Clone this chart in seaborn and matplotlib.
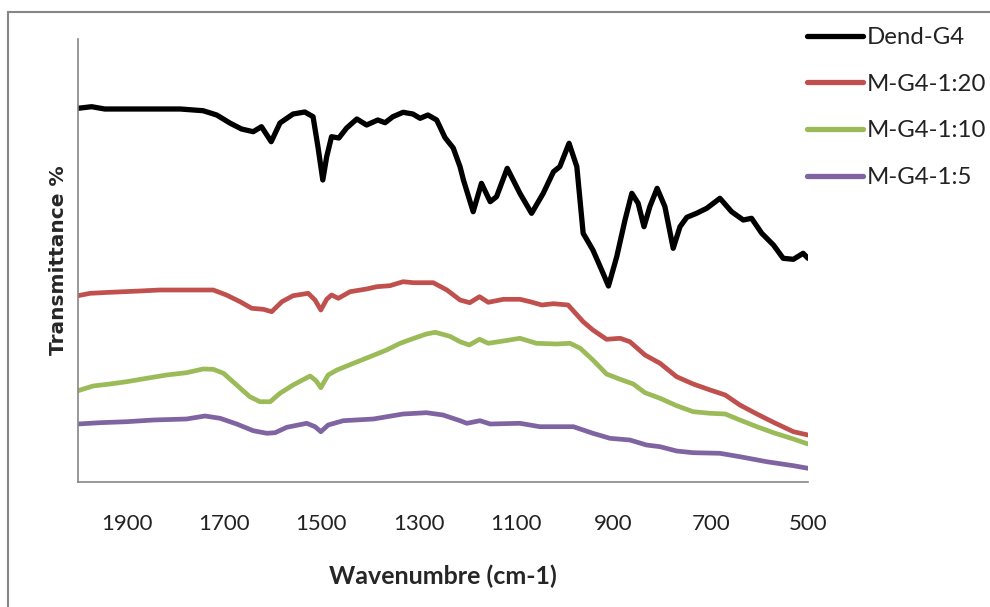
import numpy as np
import pandas as pd
import matplotlib
matplotlib.use("Agg")
import matplotlib.pyplot as plt
import seaborn as sns
from matplotlib.patches import Rectangle
from matplotlib.lines import Line2D

# ---- data (relative transmittance, arbitrary units) ----
dend_x = [2000, 1972, 1945, 1790, 1743, 1715, 1688, 1664, 1640, 1623, 1603, 1585, 1558, 1534, 1517,
          1507, 1497, 1489, 1479, 1464, 1448, 1427, 1407, 1384, 1369, 1353, 1332, 1312, 1297, 1281,
          1263, 1246, 1229, 1215, 1208, 1188, 1171, 1153, 1140, 1118, 1092, 1068, 1044, 1023, 1010,
          991, 975, 962, 942, 924, 910, 893, 876, 862, 849, 837, 825, 810, 794, 777, 763, 749, 729,
          708, 681, 657, 633, 616, 595, 571, 551, 530, 510, 500]
dend_y = [373.7, 375.3, 373, 373, 371.3, 367, 359, 353, 350.3, 355.3, 340.3, 359, 368, 370, 365.3,
          335.3, 302, 325.3, 345.3, 344, 354, 363, 357, 362, 359.3, 365.3, 369.7, 368, 363.7, 367,
          362, 344.5, 334, 315.3, 302, 270.3, 298.7, 280.3, 285.3, 313.7, 288.7, 268.7, 288.7, 310.3, 315.3,
          338.7, 315.3, 248.7, 232, 212, 196, 225.3, 262, 288.7, 278.7, 255.3, 275.3, 293.7, 275.3, 233.7,
          255.3, 264.7, 268.7, 273.7, 283.7, 270.3, 262, 263.7, 248.7, 237, 223.7, 222.7, 228.7, 223.7]

m20_x = [2000, 1975, 1934, 1873, 1832, 1722, 1695, 1667, 1643, 1619, 1602, 1581, 1558, 1527, 1513,
         1501, 1489, 1479, 1465, 1441, 1407, 1386, 1359, 1332, 1311, 1297, 1270, 1242, 1215, 1195,
         1175, 1157, 1126, 1092, 1071, 1047, 1023, 993, 962, 942, 914, 886, 866, 835, 804, 770, 736,
         701, 670, 640, 605, 571, 530, 500]
m20_y = [186.3, 188.7, 189.7, 191, 192, 192, 187, 180.3, 173.7, 172.7, 170.3, 180.3, 186.3, 188.7, 182,
         172, 182.7, 187, 183.7, 190.3, 193, 195.3, 196.3, 200.3, 199.3, 199.3, 199.3, 192, 182, 179.3,
         185.3, 179.7, 182.7, 182.7, 180.3, 177, 178.3, 177, 160.3, 152, 142.7, 143.7, 140.3, 127, 118.7,
         105.3, 98, 92, 87, 77, 68, 59.7, 50.3, 47]

m10_x = [2000, 1969, 1934, 1900, 1859, 1818, 1777, 1743, 1722, 1701, 1674, 1647, 1626, 1605, 1585,
         1558, 1523, 1511, 1501, 1486, 1468, 1434, 1400, 1366, 1338, 1304, 1284, 1266, 1236, 1215,
         1196, 1175, 1157, 1126, 1092, 1058, 1017, 989, 968, 942, 914, 886, 859, 835, 804, 770, 736,
         701, 670, 640, 605, 571, 530, 500]
m10_y = [91.3, 96, 98, 100.3, 103.7, 107, 109.3, 113, 112.7, 108.7, 97, 85.3, 80.3, 80.3, 88.7,
         97, 106, 101.3, 94.3, 107, 112, 118.7, 125.3, 132, 138.7, 144.7, 148, 149.7, 145.7, 140.3,
         137, 142.7, 138.7, 141, 143.7, 138.7, 138, 138.7, 133.7, 122, 108, 102.7, 98, 89.3, 83.7,
         76.3, 70.3, 68.7, 68, 62, 55.3, 49.3, 43, 38]

m5_x = [2000, 1955, 1900, 1845, 1777, 1739, 1708, 1674, 1640, 1612, 1595, 1571, 1530, 1513, 1501,
        1486, 1455, 1393, 1332, 1284, 1250, 1215, 1201, 1174, 1153, 1092, 1051, 982, 942, 907, 866,
        832, 804, 770, 736, 681, 640, 585, 530, 500]
m5_y = [58, 59.3, 60.3, 62, 63, 66, 63.7, 58, 51.3, 48.7, 49.3, 54.7, 58.7, 55.3, 50.3,
        57, 61.3, 63, 68, 69.3, 67, 61.3, 58.7, 61.3, 58, 58.7, 55.3, 55.3, 48.7, 43.7, 42,
        37, 35.3, 31, 29.3, 28.7, 25.3, 20.3, 16.3, 13.7]

series_names = ["Dend-G4", "M-G4-1:20", "M-G4-1:10", "M-G4-1:5"]
series_colors = ["#000000", "#C0504D", "#9BBB59", "#8064A2"]
x_ticks = [1900, 1700, 1500, 1300, 1100, 900, 700, 500]

frames = []
for name, xs, ys in zip(series_names, [dend_x, m20_x, m10_x, m5_x], [dend_y, m20_y, m10_y, m5_y]):
    frames.append(pd.DataFrame({"wn": xs, "T": ys, "series": name}))
df = pd.concat(frames, ignore_index=True)

sns.set_style("white")
plt.rcParams["font.family"] = ["Lato", "DejaVu Sans"]

W, H = 990, 607
fig = plt.figure(figsize=(W / 100, H / 100), dpi=100)
ax = fig.add_axes([78 / W, 1 - 482 / H, (808 - 78) / W, (482 - 39) / H])

palette = dict(zip(series_names, series_colors))
sns.lineplot(data=df, x="wn", y="T", hue="series", hue_order=series_names, palette=palette,
             estimator=None, sort=False, linewidth=3.4, ax=ax, legend=False)
for line in ax.get_lines():
    line.set_solid_capstyle("round")
    line.set_solid_joinstyle("round")
ax.get_lines()[0].set_linewidth(3.8)

ax.set_xlim(2000, 500)
ax.set_ylim(0, 443)
ax.set_xticks(x_ticks)
ax.set_xticklabels([str(t) for t in x_ticks], fontsize=16, color="#222222")
ax.set_yticks([])
ax.tick_params(axis="x", direction="out", length=7.2, width=1, color="#868686", pad=16)

for s in ["top", "right"]:
    ax.spines[s].set_visible(False)
for s in ["left", "bottom"]:
    ax.spines[s].set_color("#868686")
    ax.spines[s].set_linewidth(1.2)

ax.set_xlabel("Wavenumbre (cm-1)", fontsize=18, fontweight="bold", labelpad=22)
ax.set_ylabel("Transmittance %", fontsize=14.5, fontweight="bold", family=["DejaVu Sans"], labelpad=7)

handles = [Line2D([0], [0], color=c, linewidth=3.8, solid_capstyle="round") for c in series_colors]
leg = ax.legend(handles, series_names, loc="upper left", bbox_to_anchor=(807 / W, 1 - 27 / H),
                bbox_transform=fig.transFigure, frameon=False, fontsize=17.3, handlelength=2.35,
                handletextpad=0.14, labelspacing=1.07, borderaxespad=0, borderpad=0)
for t in leg.get_texts():
    t.set_color("#222222")

fig.patches.append(Rectangle((8 / W, -0.1), 1.2, 1 - 12 / H + 0.1, transform=fig.transFigure,
                             fill=False, edgecolor="#868686", linewidth=1.5, zorder=-1))

fig.savefig("out.png", dpi=100)
